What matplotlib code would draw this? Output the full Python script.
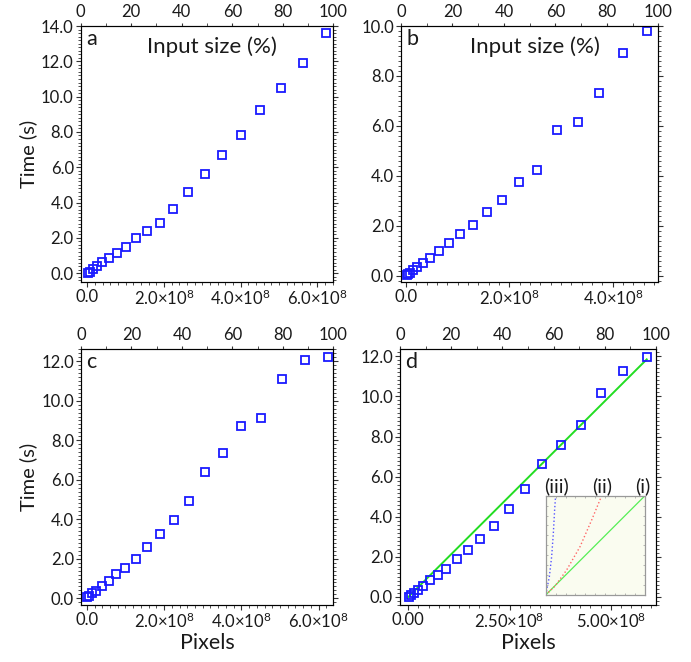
import matplotlib
matplotlib.use('Agg')
import matplotlib.pyplot as plt
from matplotlib.ticker import AutoMinorLocator, FixedLocator, FuncFormatter

plt.rcParams['font.family'] = ['Lato', 'DejaVu Sans']
plt.rcParams['mathtext.fontset'] = 'custom'
plt.rcParams['mathtext.rm'] = 'Lato'
plt.rcParams['mathtext.it'] = 'Lato:italic'
plt.rcParams['mathtext.default'] = 'rm'

# pixels (x1e8), 20 input sizes
pix_ac = [0.0156, 0.0625, 0.1406, 0.25, 0.3906, 0.5625, 0.7656, 1.0, 1.2656, 1.5625,
          1.8906, 2.25, 2.6406, 3.0625, 3.5156, 4.0, 4.5156, 5.0625, 5.6406, 6.24]
pix_b = [0.01, 0.04, 0.077, 0.135, 0.22, 0.33, 0.47, 0.645, 0.835, 1.05,
         1.30, 1.57, 1.865, 2.18, 2.54, 2.92, 3.32, 3.74, 4.19, 4.67]
pix_d = [0.0147, 0.0589, 0.1325, 0.2356, 0.3681, 0.5301, 0.7215, 0.9424, 1.1927, 1.4725,
         1.7817, 2.1204, 2.4885, 2.8861, 3.3131, 3.7696, 4.2555, 4.7709, 5.3157, 5.89]

time_a = [0.03, 0.09, 0.23, 0.41, 0.62, 0.88, 1.17, 1.50, 1.98, 2.41,
          2.86, 3.63, 4.62, 5.60, 6.68, 7.85, 9.27, 10.48, 11.88, 13.58]
time_b = [0.03, 0.07, 0.13, 0.23, 0.36, 0.50, 0.72, 1.00, 1.30, 1.67,
          2.03, 2.54, 3.05, 3.74, 4.23, 5.84, 6.15, 7.30, 8.92, 9.82]
time_c = [0.05, 0.12, 0.25, 0.38, 0.62, 0.87, 1.21, 1.53, 2.01, 2.61,
          3.23, 3.94, 4.92, 6.39, 7.37, 8.73, 9.10, 11.09, 12.08, 12.22]
time_d = [0.02, 0.085, 0.20, 0.37, 0.57, 0.83, 1.12, 1.42, 1.87, 2.33,
          2.88, 3.55, 4.40, 5.40, 6.61, 7.56, 8.56, 10.19, 11.27, 11.97]

# linear fit in d
fit_x = [0.0, 5.89]
fit_y = [0.0, 11.85]

# inset curves (normalised)
lin_x = [0.0, 1.0]
lin_y = [0.0, 1.0]
nlog_x = [0.0, 0.094, 0.21, 0.346, 0.463, 0.564]
nlog_y = [0.0, 0.09, 0.25, 0.487, 0.755, 1.0]
sq_x = [0.0, 0.037, 0.06, 0.077, 0.09, 0.10]
sq_y = [0.0, 0.185, 0.386, 0.62, 0.856, 1.0]
inset_labels = ['(iii)', '(ii)', '(i)']
inset_label_x = [0.11, 0.567, 0.98]

pct_ticks = [0, 20, 40, 60, 80, 100]

panels = [
    dict(pos=[0.1168, 0.574, 0.3656, 0.3867], x=pix_ac, y=time_a, letter='a',
         xlim=(-0.17, 6.42), ylim=(-0.5, 14.0), yt=[0, 2, 4, 6, 8, 10, 12, 14],
         xt=[0, 2, 4, 6], dec=1, top=True, ylab=True, xlab=False),
    dict(pos=[0.5803, 0.574, 0.3724, 0.3867], x=pix_b, y=time_b, letter='b',
         xlim=(-0.097, 4.88), ylim=(-0.25, 10.0), yt=[0, 2, 4, 6, 8, 10],
         xt=[0, 2, 4], dec=1, top=True, ylab=False, xlab=False),
    dict(pos=[0.1172, 0.0861, 0.3652, 0.3862], x=pix_ac, y=time_c, letter='c',
         xlim=(-0.15, 6.38), ylim=(-0.34, 12.6), yt=[0, 2, 4, 6, 8, 10, 12],
         xt=[0, 2, 4, 6], dec=1, top=False, ylab=True, xlab=True),
    dict(pos=[0.5789, 0.0861, 0.3705, 0.3862], x=pix_d, y=time_d, letter='d',
         xlim=(-0.205, 6.12), ylim=(-0.4, 12.35), yt=[0, 2, 4, 6, 8, 10, 12],
         xt=[0, 2.5, 5.0], dec=2, top=False, ylab=False, xlab=True),
]

txt = '#1a1a1a'
spine_c = '#333333'
tick_fs = 12

fig = plt.figure(figsize=(6.91, 6.62), dpi=100)


def fmt_factory(dec):
    def f(v, pos):
        if abs(v) < 1e-9:
            return '0.' + '0' * dec
        return ('{:.%df}' % dec).format(v) + '×10$^{8}$'
    return f


axes = []
for p in panels:
    ax = fig.add_axes(p['pos'])
    ax.plot(p['x'], p['y'], ls='none', marker='s', ms=6.4, mew=1.3,
            mec='#1a1aff', mfc='none', zorder=3)
    ax.set_xlim(*p['xlim'])
    ax.set_ylim(*p['ylim'])
    ax.yaxis.set_major_locator(FixedLocator(p['yt']))
    ax.yaxis.set_major_formatter(FuncFormatter(lambda v, pos: '%.1f' % v))
    ax.yaxis.set_minor_locator(AutoMinorLocator(10))
    ax.xaxis.set_major_locator(FixedLocator(p['xt']))
    ax.xaxis.set_major_formatter(FuncFormatter(fmt_factory(p['dec'])))
    ax.xaxis.set_minor_locator(AutoMinorLocator(10))
    ax.tick_params(which='both', direction='out', colors=spine_c, labelcolor=txt,
                   labelsize=tick_fs, right=True, pad=1.5)
    ax.tick_params(which='major', length=3.5, width=0.8)
    ax.tick_params(which='minor', length=2, width=0.6)
    for s in ax.spines.values():
        s.set_color(spine_c)
        s.set_linewidth(0.8)

    tx = ax.twiny()
    tx.set_xlim(0, 100)
    tx.xaxis.set_major_locator(FixedLocator(pct_ticks))
    tx.xaxis.set_minor_locator(AutoMinorLocator(2))
    tx.tick_params(which='both', direction='out', colors=spine_c, labelcolor=txt,
                   labelsize=tick_fs, pad=2)
    tx.tick_params(which='major', length=2.5, width=0.8)
    tx.tick_params(which='minor', length=2, width=0.6)

    ax.text(0.02, 0.99, p['letter'], transform=ax.transAxes, ha='left', va='top',
            fontsize=15.5, color=txt)
    if p['top']:
        ax.text(0.52, 0.92, 'Input size (%)', transform=ax.transAxes, ha='center',
                va='center', fontsize=16, color=txt)
    if p['ylab']:
        ax.set_ylabel('Time (s)', fontsize=14.5, color=txt, labelpad=3)
    if p['xlab']:
        ax.set_xlabel('Pixels', fontsize=15.5, color=txt, labelpad=1)
    axes.append(ax)

# fit line on d
axes[3].plot(fit_x, fit_y, color='#22dd22', lw=1.4, zorder=2)

# inset
ins = fig.add_axes([0.7897, 0.1012, 0.1437, 0.15])
ins.set_facecolor('#fafcf0')
ins.plot(lin_x, lin_y, color='#55ee55', lw=0.9)
ins.plot(nlog_x, nlog_y, color='#ff6666', lw=1.0, ls=':')
ins.plot(sq_x, sq_y, color='#5555ff', lw=1.0, ls=':')
ins.set_xlim(0, 1)
ins.set_ylim(0, 1)
ins.set_xticks([i / 10 for i in range(11)])
ins.set_yticks([i / 10 for i in range(11)])
ins.tick_params(which='both', direction='in', length=1.5, width=0.5, colors='#999999',
                labelleft=False, labelbottom=False, top=True, right=True)
for s in ins.spines.values():
    s.set_color('#999999')
    s.set_linewidth(0.9)
for lab, lx in zip(inset_labels, inset_label_x):
    ins.text(lx, 1.01, lab, transform=ins.transAxes, ha='center', va='bottom',
             fontsize=14, color=txt)

fig.savefig('out.png', dpi=100)
